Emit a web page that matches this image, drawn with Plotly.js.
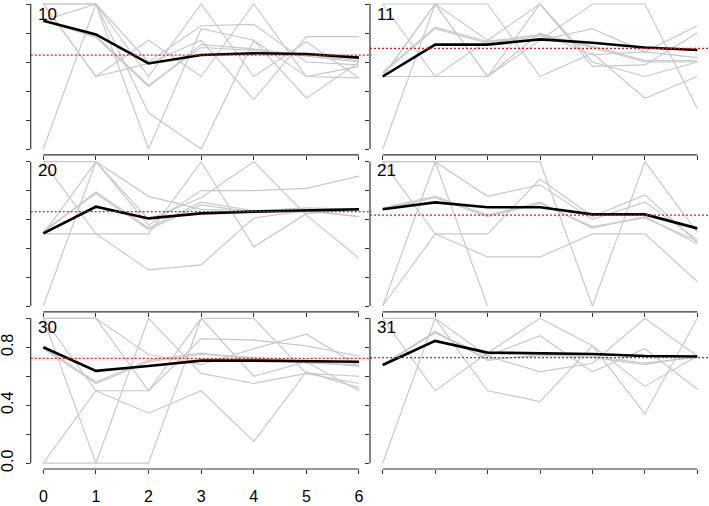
<!DOCTYPE html>
<html><head><meta charset="utf-8">
<script src="https://cdn.plot.ly/plotly-3.0.1.min.js"></script>
<style>html,body{margin:0;padding:0;background:#fff}</style>
</head><body><div id="chart" style="width:709px;height:506px"></div>
<script>
const xSteps = [0, 1, 2, 3, 4, 5, 6];
const panelLabels = ["10", "11", "20", "21", "30", "31"];
const yTickVals = [0, 0.2, 0.4, 0.6, 0.8, 1.0];
const yTickText = ["0.0", "", "0.4", "", "0.8", ""];
const xTickText = ["0", "1", "2", "3", "4", "5", "6"];

// panel 10
const grey10 = [
  [0.885, 0.77, 0.43, 0.72, 0.69, 0.64, 0.60],
  [0.885, 0.78, 0.44, 0.70, 0.68, 0.65, 0.61],
  [0.0, 1.0, 0.25, 0.0, 0.75, 0.50, 0.49],
  [1.0, 1.0, 0.50, 1.0, 0.50, 0.74, 0.49],
  [1.0, 0.50, 0.75, 0.50, 1.0, 0.50, 0.57],
  [1.0, 1.0, 0.0, 0.83, 0.75, 0.35, 0.60],
  [1.0, 0.50, 0.59, 0.75, 0.34, 0.775, 0.775],
  [0.885, 1.0, 0.60, 0.85, 0.86, 0.60, 0.58]
];
const mean10 = [0.885, 0.79, 0.59, 0.648, 0.66, 0.655, 0.63];
const ref10 = 0.648;

// panel 11
const grey11 = [
  [0.53, 0.84, 0.74, 0.79, 0.71, 0.61, 0.61],
  [0.52, 0.83, 0.73, 0.78, 0.70, 0.60, 0.60],
  [0.0, 1.0, 0.50, 1.0, 0.60, 0.50, 0.60],
  [1.0, 0.50, 0.50, 0.75, 0.83, 0.67, 0.85],
  [1.0, 1.0, 1.0, 0.50, 0.66, 0.35, 0.50],
  [0.50, 0.50, 0.75, 1.0, 0.57, 0.58, 0.80],
  [0.50, 1.0, 0.75, 0.75, 1.0, 1.0, 0.28],
  [0.50, 1.0, 0.50, 0.80, 0.65, 0.67, 0.63]
];
const mean11 = [0.50, 0.72, 0.72, 0.756, 0.733, 0.70, 0.683];
const ref11 = 0.694;

// panel 20
const grey20 = [
  [0.51, 0.79, 0.54, 0.72, 0.66, 0.68, 0.67],
  [0.52, 0.78, 0.53, 0.70, 0.65, 0.67, 0.66],
  [0.0, 1.0, 0.76, 0.67, 0.66, 0.66, 0.62],
  [1.0, 0.50, 0.25, 0.285, 0.61, 0.66, 0.62],
  [0.50, 0.50, 0.50, 1.0, 0.41, 0.64, 0.67],
  [1.0, 1.0, 0.56, 0.80, 0.80, 0.815, 0.90],
  [0.50, 1.0, 0.60, 0.75, 1.0, 0.63, 0.33]
];
const mean20 = [0.503, 0.688, 0.607, 0.642, 0.654, 0.66, 0.67];
const ref20 = 0.654;

// panel 21
const grey21 = [
  [0.68, 0.76, 0.63, 0.72, 0.54, 0.62, 0.43],
  [0.67, 0.75, 0.62, 0.71, 0.55, 0.61, 0.45],
  [0.0, 1.0, 0.0, null, null, null, null],
  [1.0, 1.0, 1.0, 1.0, 0.0, 1.0, 0.51],
  [0.0, 0.50, 0.50, 0.88, 0.62, 0.77, 0.44],
  [1.0, 0.50, 0.34, 0.34, 0.50, 0.50, 0.17],
  [1.0, 1.0, 0.76, 0.84, 0.60, 0.72, 0.46]
];
const mean21 = [0.67, 0.718, 0.684, 0.684, 0.635, 0.635, 0.538];
const ref21 = 0.63;

// panel 30
const grey30 = [
  [0.80, 0.56, 0.71, 0.76, 0.72, 0.69, 0.68],
  [0.79, 0.55, 0.70, 0.75, 0.73, 0.70, 0.67],
  [1.0, 0.0, 1.0, 0.62, 0.55, 0.62, 0.55],
  [0.0, 0.0, 0.0, 1.0, 1.0, 0.62, 0.60],
  [1.0, 1.0, 0.50, 0.86, 0.85, 0.81, 0.74],
  [0.0, 0.50, 0.345, 0.50, 0.15, 0.63, 0.52],
  [1.0, 1.0, 0.75, 0.68, 0.79, 0.89, 0.67],
  [1.0, 0.50, 0.50, 1.0, 0.60, 0.70, 0.50]
];
const mean30 = [0.80, 0.637, 0.671, 0.708, 0.708, 0.706, 0.70];
const ref30 = 0.724;

// panel 31
const grey31 = [
  [0.68, 0.91, 0.71, 0.75, 0.73, 0.68, 0.74],
  [0.68, 0.90, 0.72, 0.74, 0.74, 0.69, 0.73],
  [0.0, 1.0, 0.50, 0.425, 0.81, 0.53, 0.74],
  [1.0, 0.50, 0.76, 1.0, 0.81, 0.34, 1.0],
  [1.0, 1.0, 0.74, 0.88, 0.63, 0.79, 0.51],
  [0.68, 0.90, 0.74, 0.63, 0.69, 1.0, 0.74]
];
const mean31 = [0.678, 0.844, 0.763, 0.759, 0.754, 0.74, 0.736];
const ref31 = 0.729;

const greys = [grey10, grey11, grey20, grey21, grey30, grey31];
const means = [mean10, mean11, mean20, mean21, mean30, mean31];
const refs = [ref10, ref11, ref20, ref21, ref30, ref31];

const W = 709, H = 506;
const colDomains = [[30.7 / W, 371.6 / W], [370 / W, 1]];
const colRanges = [[-0.24, 6.24], [-0.242, 6.223]];
const rowDomains = [[1 - 154.8 / H, 1], [1 - 311.8 / H, 1 - 156 / H], [1 - 469 / H, 1 - 312.5 / H]];
const rowRanges = [[-0.04, 1.0276], [-0.0402, 1.0395], [-0.04, 1.04]];

const traces = [];
const shapes = [];
const annotations = [];
const layout = {
  width: W, height: H,
  margin: {l: 0, r: 0, t: 0, b: 0},
  paper_bgcolor: "#fff", plot_bgcolor: "rgba(0,0,0,0)",
  showlegend: false,
  font: {family: "Liberation Sans, Arial, sans-serif", size: 16, color: "#000"}
};

for (let i = 0; i < 6; i++) {
  const row = Math.floor(i / 2), col = i % 2;
  const sfx = i === 0 ? "" : String(i + 1);
  const xa = "x" + sfx, ya = "y" + sfx;
  const bottomLeft = (row === 2 && col === 0);
  layout["xaxis" + sfx] = {
    domain: colDomains[col], range: colRanges[col], anchor: ya,
    showgrid: false, zeroline: false, showline: false,
    ticks: "outside", ticklen: 4, tickwidth: 1, tickcolor: "#333",
    tickmode: "array", tickvals: xSteps, ticktext: xTickText,
    showticklabels: bottomLeft, ticklabelstandoff: 9,
    tickfont: {size: 16, color: "#000"}, fixedrange: true
  };
  layout["yaxis" + sfx] = {
    domain: rowDomains[row], range: rowRanges[row], anchor: xa,
    showgrid: false, zeroline: false, showline: false,
    ticks: "outside", ticklen: 4, tickwidth: 1, tickcolor: "#333",
    tickmode: "array", tickvals: yTickVals, ticktext: yTickText,
    showticklabels: bottomLeft, tickangle: -90, ticklabelstandoff: 6,
    tickfont: {size: 16, color: "#000"}, fixedrange: true
  };
  greys[i].forEach(function (ys) {
    traces.push({x: xSteps, y: ys, xaxis: xa, yaxis: ya, type: "scatter", mode: "lines",
      line: {color: "#c8c8c8", width: 1.2}, connectgaps: false, hoverinfo: "skip"});
  });
  traces.push({x: xSteps, y: means[i], xaxis: xa, yaxis: ya, type: "scatter", mode: "lines",
    line: {color: "#000", width: 2.6}, hoverinfo: "skip"});
  // detached R-style axis lines
  shapes.push({type: "line", xref: xa + " domain", yref: ya, x0: 0, x1: 0, y0: 0, y1: 1,
    line: {color: "#333", width: 1.2}});
  shapes.push({type: "line", xref: xa, yref: ya + " domain", x0: 0, x1: 6, y0: 0, y1: 0,
    line: {color: "#333", width: 1.2}});
  // reference line
  shapes.push({type: "line", xref: xa + " domain", yref: ya, x0: 0, x1: 1, y0: refs[i], y1: refs[i],
    layer: "above", line: {color: "#e8141c", width: 1.3, dash: "2px,2px"}});
  annotations.push({xref: xa + " domain", yref: ya + " domain", x: 0, y: 1,
    xanchor: "left", yanchor: "top", xshift: 5, yshift: -3, showarrow: false,
    text: panelLabels[i], font: {size: 17, color: "#000"}});
}
layout.shapes = shapes;
layout.annotations = annotations;

Plotly.newPlot("chart", traces, layout, {staticPlot: true, displayModeBar: false});
</script>
</body></html>
